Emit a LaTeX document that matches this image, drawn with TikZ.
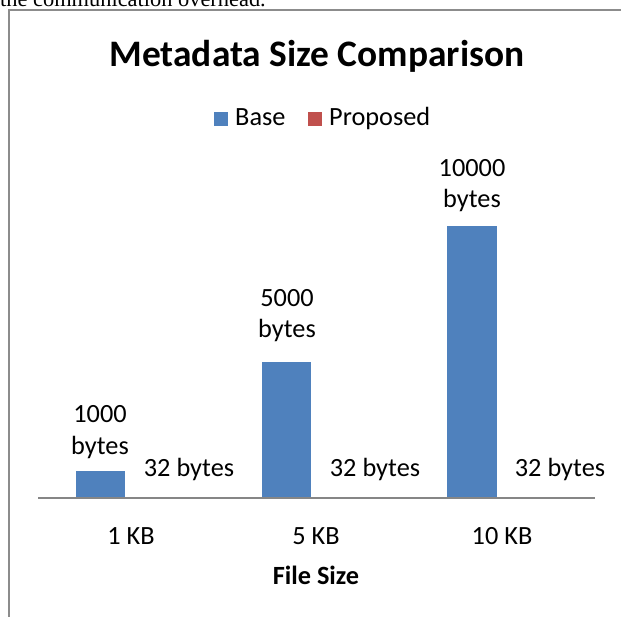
\documentclass[tikz,border=0pt]{standalone}
\usepackage{fontspec}
\setmainfont{Carlito}
\newfontfamily\bodyfont{Liberation Serif}
\usepackage{tikz}
\usetikzlibrary{positioning}
\definecolor{baseblue}{HTML}{4F81BD}
\definecolor{propred}{HTML}{C0504D}
\definecolor{axisgray}{HTML}{868686}
\definecolor{framegray}{HTML}{8C8C8C}
\tikzstyle{lbl} = [inner sep=0, text=black, font=\fontsize{26.3}{32}\selectfont, anchor=base]
\tikzstyle{keybox} = [minimum size=14pt, inner sep=0]
\tikzset{x=1pt, y=-1pt}

\begin{document}
\begin{tikzpicture}
\useasboundingbox (0,0) rectangle (621,616);
\fill[white] (0,0) rectangle (621,616);

% text of the page above the chart
\node[anchor=base west, inner sep=0, font=\bodyfont\fontsize{22.4}{26}\selectfont] (page) at (0,6.5) {the communication overhead.};

% chart frame
\draw[framegray, line width=1.5pt] (9,620) -- (9,10) -- (625,10);

\node[lbl, font=\fontsize{37.4}{44}\selectfont\bfseries] (title) at (317,66) {Metadata Size Comparison};

% legend
\node[keybox, fill=baseblue] (k1) at (220.5,118.5) {};
\node[lbl, anchor=base west] (l1) at (235,125) {Base};
\node[keybox, fill=propred, right=80pt of k1] (k2) {};
\node[lbl, anchor=base west] (l2) at (329,125) {Proposed};

% bars
\fill[baseblue] (76,498) rectangle (125,471);
\fill[baseblue] (262,498) rectangle (311,362);
\fill[baseblue] (447,498) rectangle (497,226);
\fill[propred!40] (138,498) rectangle (187,497);
\fill[propred!40] (323,498) rectangle (373,497);
\fill[propred!40] (509,498) rectangle (558,497);

% axis
\coordinate (ax0) at (38,498);
\coordinate (ax1) at (595,498);
\draw[axisgray, line width=1.6pt] (ax0) -- (ax1);

% data labels
\node[lbl] (v1) at (100,422) {1000};
\node[lbl] (v1b) at (100,454) {bytes};
\node[lbl] (p1) at (189,476) {32 bytes};
\node[lbl] (v2) at (287,306) {5000};
\node[lbl] (v2b) at (287,337) {bytes};
\node[lbl] (p2) at (375,476) {32 bytes};
\node[lbl] (v3) at (472,176) {10000};
\node[lbl] (v3b) at (472,207) {bytes};
\node[lbl] (p3) at (560,476) {32 bytes};

% categories
\node[lbl] (c1) at (131,544) {1 KB};
\node[lbl] (c2) at (316,544) {5 KB};
\node[lbl] (c3) at (502,544) {10 KB};
\node[lbl, font=\fontsize{26.3}{32}\selectfont\bfseries] (xlab) at (316,584) {File Size};
\end{tikzpicture}
\end{document}
